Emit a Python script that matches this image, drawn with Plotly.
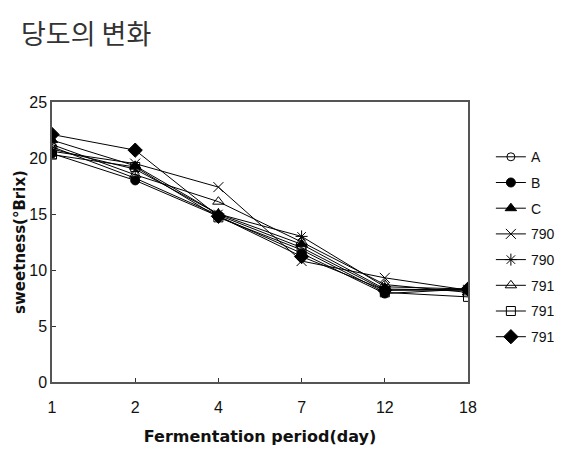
import plotly.graph_objects as go

days = ["1", "2", "4", "7", "12", "18"]
series_names = ["A", "B", "C", "790", "790", "791", "791", "791"]
A = [21.0, 18.2, 14.9, 12.0, 8.2, 8.2]
B = [20.4, 18.0, 14.8, 11.5, 7.9, 8.3]
C = [21.6, 19.3, 15.0, 12.3, 8.3, 8.2]
s790a = [20.6, 19.5, 17.4, 10.8, 9.3, 8.2]
s790b = [20.8, 19.0, 15.0, 13.0, 8.5, 8.3]
s791a = [21.2, 18.5, 16.1, 12.5, 8.7, 8.0]
s791b = [20.3, 19.2, 14.7, 11.8, 8.0, 7.6]
s791c = [22.1, 20.7, 14.8, 11.2, 8.2, 8.3]
y_ticks = [0, 5, 10, 15, 20, 25]

values = [A, B, C, s790a, s790b, s791a, s791b, s791c]
symbols = ["circle-open", "circle", "triangle-up", "x-thin-open", "asterisk-open",
           "triangle-up-open", "square-open", "diamond"]
sizes = [8, 9, 10, 10, 10, 10, 9, 11]

fig = go.Figure()
for i, (name, vals) in enumerate(zip(series_names, values)):
    fig.add_trace(go.Scatter(
        x=days, y=vals, name=name, mode="lines+markers",
        legendgroup=f"g{i}",
        line=dict(color="black", width=1),
        marker=dict(symbol=symbols[i], size=sizes[i], color="black",
                    line=dict(color="black", width=1)),
    ))

fig.update_layout(
    width=570, height=449,
    margin=dict(l=52, r=102, t=102, b=67, autoexpand=False),
    paper_bgcolor="white", plot_bgcolor="white",
    showlegend=True,
    legend=dict(x=1.055, y=0.86, xanchor="left", yanchor="top",
                font=dict(family="Liberation Sans, Arial, sans-serif", size=14, color="#111"),
                tracegroupgap=4.5, itemwidth=30, bgcolor="rgba(0,0,0,0)"),
    annotations=[
        dict(text="당도의 변화", xref="paper", yref="paper", x=-0.08, y=1.0,
             xanchor="left", yanchor="middle", yshift=70, showarrow=False,
             font=dict(family="Noto Sans CJK KR", size=27, color="#333")),
    ],
)
fig.update_xaxes(
    type="category", range=[0, 5], showgrid=False, zeroline=False,
    showline=True, linecolor="#555", linewidth=1.5, mirror=True,
    ticks="inside", ticklen=4, tickcolor="#333", ticklabelstandoff=10,
    tickfont=dict(family="Liberation Sans, Arial, sans-serif", size=16, color="#111"),
    title=dict(text="<b>Fermentation period(day)</b>", standoff=16,
               font=dict(family="DejaVu Sans, sans-serif", size=16, color="#111")),
)
fig.update_yaxes(
    range=[0, 25], tickvals=y_ticks, showgrid=False, zeroline=False,
    showline=True, linecolor="#555", linewidth=1.5, mirror=True,
    ticks="inside", ticklen=4, tickcolor="#333",
    tickfont=dict(family="Liberation Sans, Arial, sans-serif", size=16, color="#111"),
    title=dict(text="<b>sweetness(°Brix)</b>", standoff=0,
               font=dict(family="DejaVu Sans, sans-serif", size=15, color="#111")),
)

fig.write_html("out.html")
